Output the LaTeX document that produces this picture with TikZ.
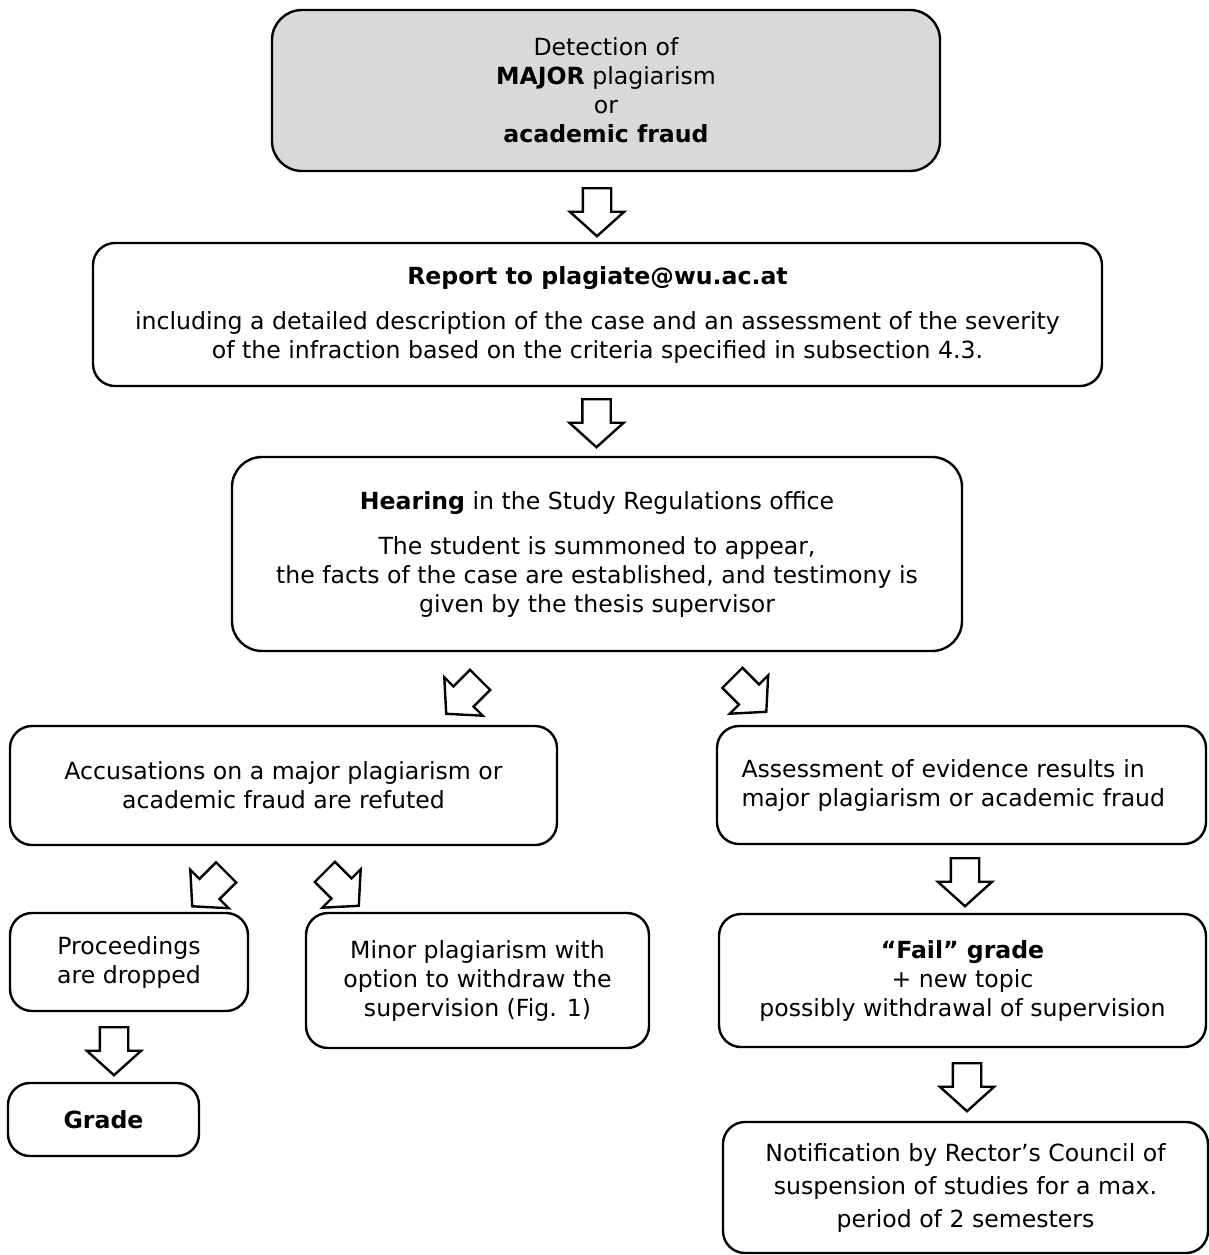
\documentclass[tikz,border=0pt]{standalone}
\usepackage{fontspec}
\setmainfont{DejaVu Sans}
\usetikzlibrary{shapes.arrows}

\begin{document}
\begin{tikzpicture}[x=0.5pt, y=-0.5pt,
  box/.style={draw, line width=1.2pt, rounded corners=11pt, align=center, inner sep=0pt,
    font=\fontsize{11.8}{14.5}\selectfont},
  greybox/.style={box, fill=black!15, rounded corners=15pt},
  blockarrow/.style={single arrow, draw, line width=1.2pt, inner xsep=0pt, inner ysep=6.5pt,
    minimum height=24pt, single arrow head extend=6.5pt, single arrow tip angle=96, anchor=tail}]
 \useasboundingbox (0,0) rectangle (1209,1255);
 \node [greybox, minimum width=334pt, minimum height=80.5pt] (detect) at (606,90.5)
   {Detection of\\ \textbf{MAJOR} plagiarism\\ or\\ \textbf{academic fraud}};
 \node [box, minimum width=504.5pt, minimum height=71.5pt] (report) at (597.5,314.5)
   {\textbf{Report to plagiate@wu.ac.at}\\[8pt]
    including a detailed description of the case and an assessment of the severity\\
    of the infraction based on the criteria specified in subsection 4.3.};
 \node [box, rounded corners=15pt, minimum width=365pt, minimum height=97pt] (hearing) at (597,554)
   {\textbf{Hearing} in the Study Regulations office\\[8pt]
    The student is summoned to appear,\\
    the facts of the case are established, and testimony is\\
    given by the thesis supervisor};
 \node [box, minimum width=273.5pt, minimum height=59.5pt] (refuted) at (283.5,785.5)
   {Accusations on a major plagiarism or\\ academic fraud are refuted};
 \node [box, align=left, text width=220pt, minimum width=244.5pt, minimum height=59pt] (evidence) at (961.5,785)
   {Assessment of evidence results in\\ major plagiarism or academic fraud};
 \node [box, minimum width=119pt, minimum height=49pt] (dropped) at (129,962)
   {Proceedings\\ are dropped};
 \node [box, minimum width=171.5pt, minimum height=67.5pt] (minor) at (477.5,980.5)
   {Minor plagiarism with\\ option to withdraw the\\ supervision (Fig. 1)};
 \node [box, minimum width=243.5pt, minimum height=66.5pt] (fail) at (962.5,980.5)
   {\textbf{“Fail” grade}\\ + new topic\\ possibly withdrawal of supervision};
 \node [box, minimum width=95.5pt, minimum height=36.5pt] (grade) at (103.5,1119.5)
   {\textbf{Grade}};
 \node [box, font=\fontsize{11.8}{16.5}\selectfont, minimum width=242.5pt, minimum height=65.5pt] (notify) at (965.5,1187.5)
   {Notification by Rector’s Council of\\ suspension of studies for a max.\\ period of 2 semesters};

 \node [blockarrow, rotate=-90] (a1) at (597,187) {};
 \node [blockarrow, rotate=-90] (a2) at (596.5,398) {};
 \node [blockarrow, rotate=-135] (a3) at (481,679) {};
 \node [blockarrow, rotate=-45] (a4) at (731.5,677) {};
 \node [blockarrow, rotate=-135] (a5) at (227,871.5) {};
 \node [blockarrow, rotate=-45] (a6) at (324,871) {};
 \node [blockarrow, rotate=-90] (a7) at (965,857) {};
 \node [blockarrow, rotate=-90] (a8) at (114,1026) {};
 \node [blockarrow, rotate=-90] (a9) at (967,1062) {};
\end{tikzpicture}
\end{document}
